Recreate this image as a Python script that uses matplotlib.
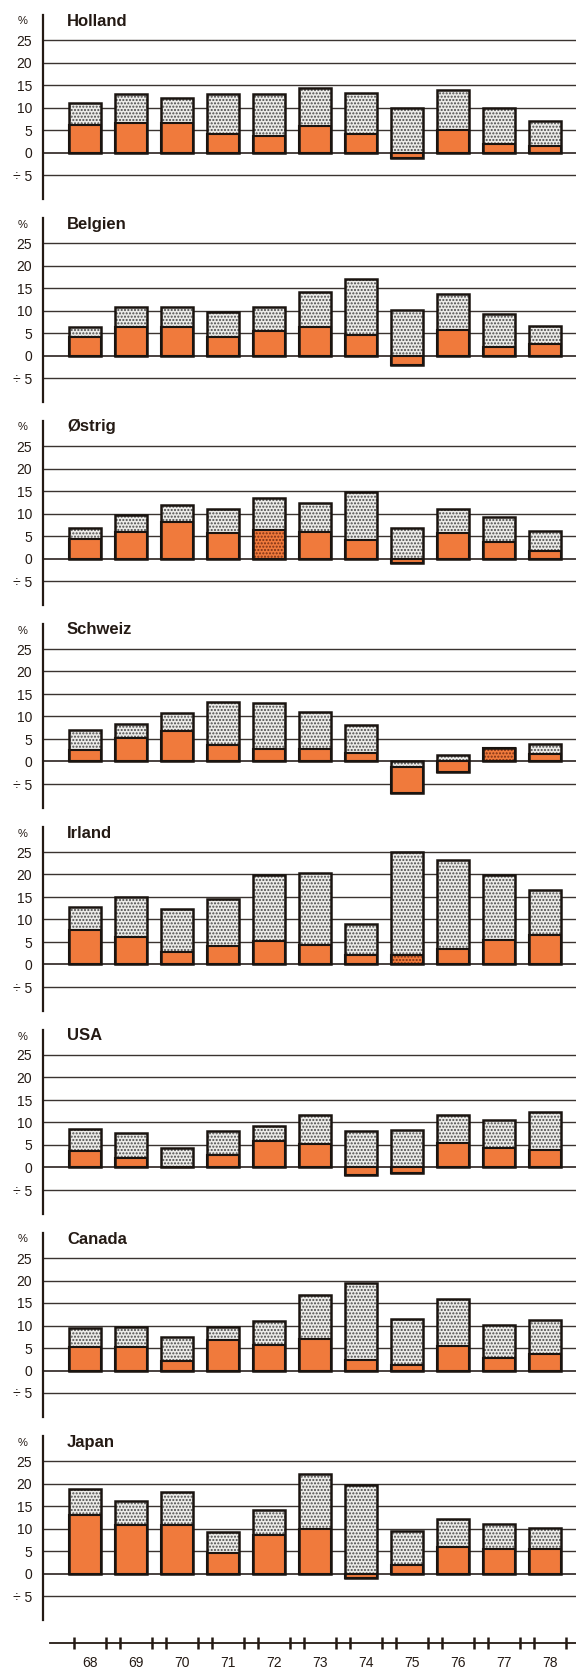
import numpy as np
import matplotlib
matplotlib.use('Agg')
import matplotlib.pyplot as plt

plt.rcParams['font.family'] = ['Liberation Sans', 'DejaVu Sans']
plt.rcParams['hatch.linewidth'] = 1.0

years = ['68', '69', '70', '71', '72', '73', '74', '75', '76', '77', '78']

holland_nom = [10.9, 12.9, 12.2, 12.9, 12.9, 14.4, 13.2, 9.9, 13.8, 9.9, 6.9]
holland_real = [6.1, 6.5, 6.6, 4.1, 3.7, 5.8, 4.1, -1.2, 5.0, 1.9, 1.5]

belgien_nom = [6.4, 10.8, 10.8, 9.7, 10.8, 14.1, 17.0, 10.2, 13.7, 9.2, 6.6]
belgien_real = [4.1, 6.3, 6.3, 4.1, 5.5, 6.4, 4.6, -2.0, 5.6, 2.0, 2.5]

oestrig_nom = [6.7, 9.7, 11.9, 11.1, 13.5, 12.4, 14.8, 6.8, 11.0, 9.3, 6.1]
oestrig_real = [4.3, 6.0, 8.1, 5.6, 6.3, 6.0, 4.2, -1.0, 5.7, 3.6, 1.7]

schweiz_nom = [7.1, 8.3, 10.7, 13.2, 12.9, 11.1, 8.0, -1.2, 1.5, 3.1, 3.9]
schweiz_real = [2.5, 5.3, 6.7, 3.7, 2.7, 2.7, 1.8, -7.0, -2.4, 3.1, 1.6]

irland_nom = [12.8, 15.0, 12.4, 14.5, 19.8, 20.4, 8.9, 25.0, 23.3, 19.8, 16.5]
irland_real = [7.6, 6.1, 2.7, 4.1, 5.2, 4.4, 2.2, 2.2, 3.5, 5.5, 6.5]

usa_nom = [8.6, 7.6, 4.4, 8.1, 9.3, 11.7, 8.0, 8.4, 11.7, 10.6, 12.4]
usa_real = [3.7, 2.1, 0.0, 2.8, 5.9, 5.2, -1.6, -1.2, 5.4, 4.4, 3.9]

canada_nom = [9.4, 9.7, 7.5, 9.7, 10.9, 16.8, 19.5, 11.4, 15.8, 10.1, 11.3]
canada_real = [5.3, 5.3, 2.1, 6.8, 5.7, 7.0, 2.4, 1.3, 5.5, 2.7, 3.7]

japan_nom = [18.8, 16.2, 18.1, 9.3, 14.2, 22.1, 19.7, 9.5, 12.2, 11.0, 10.2]
japan_real = [12.9, 10.7, 10.7, 4.5, 8.6, 9.8, -0.9, 1.8, 6.0, 5.4, 5.4]

# bars where the orange part is printed with a dot screen
dotted_orange = {'Østrig': [4], 'Schweiz': [9], 'Irland': [7]}

panels = [
    ('Holland', holland_nom, holland_real),
    ('Belgien', belgien_nom, belgien_real),
    ('Østrig', oestrig_nom, oestrig_real),
    ('Schweiz', schweiz_nom, schweiz_real),
    ('Irland', irland_nom, irland_real),
    ('USA', usa_nom, usa_real),
    ('Canada', canada_nom, canada_real),
    ('Japan', japan_nom, japan_real),
]

yticks = [-5, 0, 5, 10, 15, 20, 25]
ylabels = ['÷ 5', '0', '5', '10', '15', '20', '25']

ORANGE = '#f07a3c'
INK = '#241a14'
W, H = 576, 1669

def fx(px):
    return px / W

def fy(py):
    return 1 - py / H

fig = plt.figure(figsize=(W / 100, H / 100), dpi=100)

x = np.arange(len(years))
bw = 0.69
step = 46.0          # px between bar centres
x0 = 85.0            # px of first bar centre
ppu = 4.5            # px per percent
ylo, yhi = -10.3, 30.6

for i, (name, nom, real) in enumerate(panels):
    nom = np.array(nom)
    real = np.array(real)
    zero_y = 152.5 + 203 * i
    ax = fig.add_axes([fx(43), fy(zero_y - ylo * ppu), (W - 43) / W, (yhi - ylo) * ppu / H])
    ax.set_xlim((43 - x0) / step, (W - x0) / step)
    ax.set_ylim(ylo, yhi)

    for v in yticks:
        ax.axhline(v, color='#3a3330', lw=1.3 if v == 0 else 1.0, zorder=1)

    # segments
    both_neg = (real < 0) & (nom < 0)
    or_bot = np.where(both_neg, nom, 0.0)
    or_h = np.where(both_neg, real - nom, real)
    dt_bot = np.where(real >= 0, real, 0.0)
    dt_h = np.where(real >= 0, np.maximum(nom - real, 0), nom)
    lo = np.minimum(np.minimum(real, nom), 0)
    hi = np.maximum(np.maximum(real, nom), 0)

    ax.bar(x, dt_h, bw, bottom=dt_bot, color='#ecebe8', edgecolor='#4a4a4a',
           hatch='.....', lw=0, zorder=2)
    flags = dotted_orange.get(name, [])
    for k in range(len(x)):
        if k in flags:
            ax.bar(x[k], or_h[k], bw, bottom=or_bot[k], color=ORANGE,
                   edgecolor='#7a3014', hatch='.....', lw=0, zorder=3)
            ax.bar(x[k], or_h[k], bw, bottom=or_bot[k], fill=False,
                   edgecolor='#1a1410', lw=1.5, zorder=3)
        else:
            ax.bar(x[k], or_h[k], bw, bottom=or_bot[k], color=ORANGE,
                   edgecolor='#1a1410', lw=1.5, zorder=3)
    ax.bar(x, hi - lo, bw, bottom=lo, fill=False, edgecolor='#1a1410',
           lw=1.8, zorder=4)

    for s in ['top', 'right', 'bottom']:
        ax.spines[s].set_visible(False)
    ax.spines['left'].set_linewidth(1.6)
    ax.spines['left'].set_color(INK)
    ax.set_xticks([])
    ax.set_yticks(yticks)
    ax.set_yticklabels(ylabels)
    ax.tick_params(axis='y', length=0, pad=8, labelsize=10, labelcolor=INK)
    ax.patch.set_visible(False)

    fig.text(fx(67), fy(zero_y - 127), name, fontsize=12, fontweight='bold',
             color=INK, va='baseline')
    fig.text(fx(23), fy(zero_y - 131), '%', fontsize=8, color=INK,
             ha='center', va='center')

# year axis at the bottom
shift = 5.0
axb = fig.add_axes([fx(50), fy(1643), (W - 50) / W, 0.0006])
axb.set_xlim((50 - x0 - shift) / step, (W - x0 - shift) / step)
for s in ['top', 'right', 'left']:
    axb.spines[s].set_visible(False)
axb.spines['bottom'].set_linewidth(1.3)
axb.spines['bottom'].set_color(INK)
axb.set_yticks([])
edges = np.concatenate([x - bw / 2, x + bw / 2])
axb.set_xticks(np.sort(edges))
axb.set_xticklabels([])
axb.tick_params(axis='x', which='major', direction='inout', length=8, width=1.8, color=INK)
axb.set_xticks(x, minor=True)
axb.set_xticklabels(years, minor=True)
axb.tick_params(axis='x', which='minor', length=0, pad=9, labelsize=10, labelcolor=INK)
axb.patch.set_visible(False)

fig.savefig('out.png', dpi=100)
